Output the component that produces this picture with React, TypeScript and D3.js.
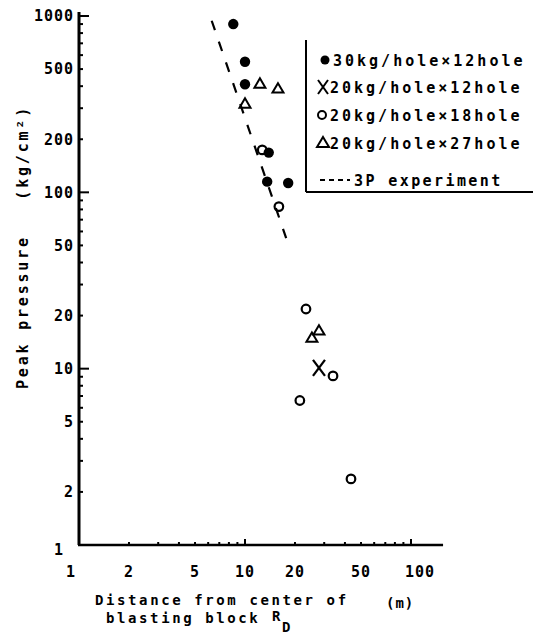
import { useMemo } from "react";
import * as d3 from "d3";

const WIDTH = 541;
const HEIGHT = 634;

// distance (m), peak pressure (kg/cm2)
const filledPoints: [number, number][] = [
  [8.5, 900], [10, 550], [10, 410], [13.9, 168], [13.6, 115], [18.2, 113],
];
const crossPoints: [number, number][] = [[27.9, 10.1]];
const openPoints: [number, number][] = [
  [12.7, 174], [16, 83], [23.3, 21.8], [33.9, 9.1], [21.4, 6.6], [43.5, 2.37],
];
const trianglePoints: [number, number][] = [
  [12.3, 417], [15.8, 391], [10, 321], [27.9, 16.6], [25.3, 15.1],
];
const experimentLine: [number, number][] = [[6.3, 940], [17.7, 55]];

const xTickValues = [1, 2, 5, 10, 20, 50, 100];
const yTickValues = [1, 2, 5, 10, 20, 50, 100, 200, 500, 1000];
const legendLabels = [
  "30kg/hole×12hole",
  "20kg/hole×12hole",
  "20kg/hole×18hole",
  "20kg/hole×27hole",
  "3P experiment",
];

const FONT = "'DejaVu Sans Mono', monospace";

function triPath(cx: number, cy: number, s: number) {
  const h = s * 0.85;
  return `M${cx},${cy - h / 2}L${cx + s / 2},${cy + h / 2}L${cx - s / 2},${cy + h / 2}Z`;
}

export default function App() {
  const { x, y, minorX, minorY } = useMemo(() => {
    const x = d3.scaleLog().domain([1, 100]).range([79, 411]);
    const y = d3.scaleLog().domain([1, 1000]).range([545, 16]);
    const minorX: number[] = [];
    [1, 10, 100].forEach((d) => {
      for (let k = 2; k <= 9; k++) if (d * k <= 150) minorX.push(d * k);
    });
    const minorY: number[] = [];
    [1, 10, 100].forEach((d) => {
      for (let k = 2; k <= 9; k++) minorY.push(d * k);
    });
    return { x, y, minorX, minorY };
  }, []);

  const x0 = x(1);
  const y0 = y(1);
  const xEnd = x(156);
  const yTop = y(1000) - 4;

  const lineGen = d3
    .line<[number, number]>()
    .x((d) => x(d[0]))
    .y((d) => y(d[1]));

  const legendX = 306;
  const legendRows = [60, 87, 115, 143, 180];

  return (
    <svg
      width={WIDTH}
      height={HEIGHT}
      style={{ position: "absolute", left: 0, top: 0, background: "#fff" }}
    >
      {/* axes */}
      <line x1={x0} y1={yTop} x2={x0} y2={y0} stroke="#000" strokeWidth={3} />
      <line x1={x0 - 1} y1={y0} x2={xEnd} y2={y0} stroke="#000" strokeWidth={2.5} />

      {/* y ticks */}
      {minorY.map((t) => (
        <line key={"my" + t} x1={x0} x2={x0 + 4} y1={y(t)} y2={y(t)} stroke="#000" strokeWidth={2} />
      ))}
      {[10, 100, 1000].map((t) => (
        <line key={"My" + t} x1={x0} x2={x0 + 10} y1={y(t)} y2={y(t)} stroke="#000" strokeWidth={2} />
      ))}
      {yTickValues.map((t) => (
        <text
          key={"yl" + t}
          x={t === 1 ? 64 : x0 - 5}
          y={t === 1 ? y(t) + 5 : y(t)}
          dy="0.35em"
          textAnchor="end"
          fontFamily={FONT}
          fontWeight="bold"
          fontSize={15}
          letterSpacing={1}
        >
          {t}
        </text>
      ))}

      {/* x ticks */}
      {minorX.map((t) => (
        <line key={"mx" + t} x1={x(t)} x2={x(t)} y1={y0} y2={y0 - 3} stroke="#000" strokeWidth={2} />
      ))}
      {[10, 100].map((t) => (
        <line key={"Mx" + t} x1={x(t)} x2={x(t)} y1={y0} y2={y0 - 6} stroke="#000" strokeWidth={2} />
      ))}
      {xTickValues.map((t) => (
        <text
          key={"xl" + t}
          x={t === 1 ? x(t) - 8 : t === 100 ? x(t) + 9 : x(t)}
          y={572}
          dy="0.35em"
          textAnchor="middle"
          fontFamily={FONT}
          fontWeight="bold"
          fontSize={15}
          letterSpacing={1}
        >
          {t}
        </text>
      ))}

      {/* axis titles */}
      <text x={95} y={605} fontFamily={FONT} fontWeight="bold" fontSize={14} letterSpacing={2.6}>
        Distance from center of
      </text>
      <text x={106} y={623} fontFamily={FONT} fontWeight="bold" fontSize={14} letterSpacing={2.6}>
        blasting block
      </text>
      <text x={272} y={621} fontFamily={FONT} fontWeight="bold" fontSize={14}>
        R
      </text>
      <text x={282} y={632} fontFamily={FONT} fontWeight="bold" fontSize={14}>
        D
      </text>
      <text x={386} y={608} fontFamily={FONT} fontWeight="bold" fontSize={14} letterSpacing={1}>
        (m)
      </text>
      <text
        transform="translate(28,247) rotate(-90)"
        textAnchor="middle"
        fontFamily={FONT}
        fontWeight="bold"
        fontSize={15}
        letterSpacing={2.8}
        style={{ whiteSpace: "pre" }}
      >
        {"Peak pressure   (kg/cm²)"}
      </text>

      {/* 3P experiment line */}
      <path
        d={lineGen(experimentLine) || ""}
        fill="none"
        stroke="#000"
        strokeWidth={2.2}
        strokeDasharray="10 12"
      />

      {/* data */}
      {filledPoints.map((d, i) => (
        <circle key={"f" + i} cx={x(d[0])} cy={y(d[1])} r={5.2} fill="#000" />
      ))}
      {openPoints.map((d, i) => (
        <circle key={"o" + i} cx={x(d[0])} cy={y(d[1])} r={4.3} fill="none" stroke="#000" strokeWidth={2.2} />
      ))}
      {trianglePoints.map((d, i) => (
        <path key={"t" + i} d={triPath(x(d[0]), y(d[1]), 11)} fill="none" stroke="#000" strokeWidth={2} />
      ))}
      {crossPoints.map((d, i) => {
        const cx = x(d[0]);
        const cy = y(d[1]);
        return (
          <g key={"x" + i} stroke="#000" strokeWidth={2.2}>
            <line x1={cx - 6} y1={cy - 8} x2={cx + 6} y2={cy + 8} />
            <line x1={cx + 6} y1={cy - 8} x2={cx - 6} y2={cy + 8} />
          </g>
        );
      })}

      {/* legend frame */}
      <line x1={legendX} y1={40} x2={legendX} y2={192} stroke="#000" strokeWidth={2} />
      <line x1={legendX} y1={192} x2={533} y2={192} stroke="#000" strokeWidth={2} />

      {/* legend entries */}
      <circle cx={325} cy={legendRows[0]} r={4.5} fill="#000" />
      <g stroke="#000" strokeWidth={2}>
        <line x1={318} y1={legendRows[1] - 7} x2={328} y2={legendRows[1] + 7} />
        <line x1={328} y1={legendRows[1] - 7} x2={318} y2={legendRows[1] + 7} />
      </g>
      <circle cx={322} cy={legendRows[2]} r={4} fill="none" stroke="#000" strokeWidth={2} />
      <path d={triPath(323, legendRows[3] - 1, 12)} fill="none" stroke="#000" strokeWidth={2} />
      <line x1={320} x2={350} y1={legendRows[4]} y2={legendRows[4]} stroke="#000" strokeWidth={2} strokeDasharray="5 4" />
      {legendLabels.map((lbl, i) => (
        <text
          key={lbl + i}
          x={i === 0 ? 333 : i === 4 ? 354 : 330}
          y={legendRows[i]}
          dy="0.38em"
          fontFamily={FONT}
          fontWeight="bold"
          fontSize={15}
          letterSpacing={i === 4 ? 2.4 : 3}
        >
          {lbl}
        </text>
      ))}
    </svg>
  );
}
